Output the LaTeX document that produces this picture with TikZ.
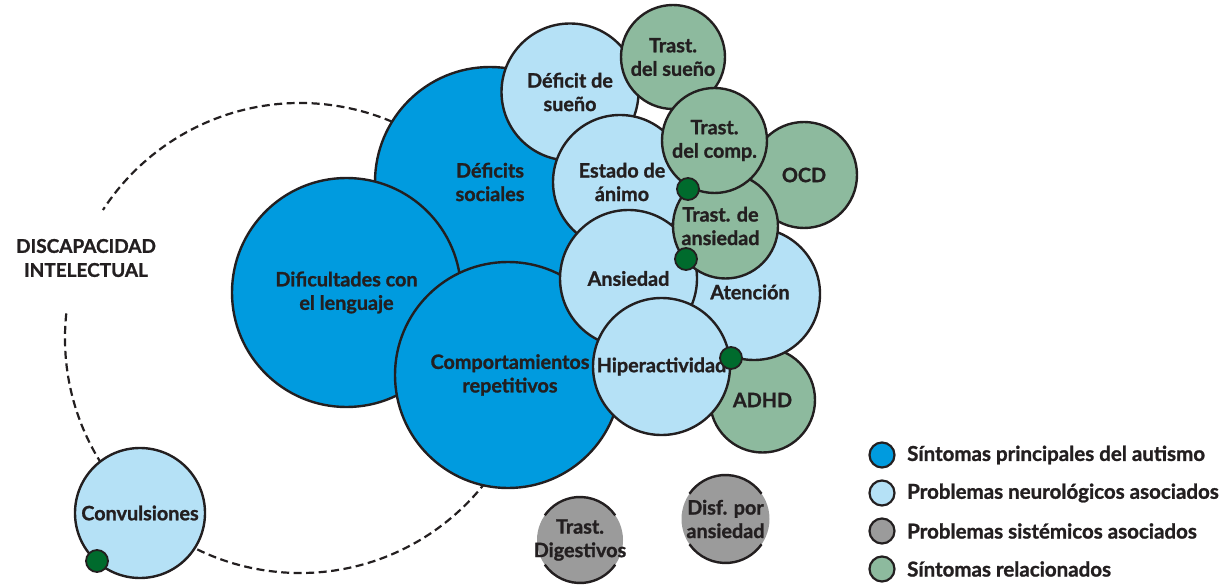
\documentclass[tikz,border=0pt]{standalone}
\usepackage{fontspec}
\setmainfont{Lato}[BoldFeatures={FakeBold=1.2}]
\definecolor{ink}{HTML}{231F20}
\definecolor{coreblue}{HTML}{009BDF}
\definecolor{lightblue}{HTML}{B5E1F6}
\definecolor{sysgrey}{HTML}{9B9B9B}
\definecolor{relgreen}{HTML}{8DBA9E}
\definecolor{dotgreen}{HTML}{006B2D}
\begin{document}
\begin{tikzpicture}[x=1pt,y=-1pt,
  bub/.style={circle, draw=ink, line width=2.4pt, inner sep=0pt},
  core/.style={bub, fill=coreblue},
  neuro/.style={bub, fill=lightblue},
  rel/.style={bub, fill=relgreen},
  sysc/.style={circle, fill=sysgrey, inner sep=0pt},
  rim/.style={draw=ink, line width=2.4pt},
  lbl/.style={align=center, text=ink, inner sep=0pt, font=\bfseries\fontsize{19.8}{23.5}\selectfont},
  jn/.style={circle, fill=dotgreen, draw=ink, line width=1.8pt, minimum size=22pt, inner sep=0pt},
  key/.style={circle, draw=ink, line width=2.2pt, minimum size=25pt, inner sep=0pt},
  keytxt/.style={anchor=west, text=ink, inner sep=0pt, font=\bfseries\fontsize{20.5}{22}\selectfont},
  ring/.style={draw=ink, line width=2.2pt, dash pattern=on 8pt off 4.5pt}
]
\useasboundingbox (0,0) rectangle (1223,585);

% dashed ring for intellectual disability
\coordinate (ringc) at (300,338);
\draw[ring] ([shift={(174:235pt)}]ringc) arc[start angle=174, end angle=507, radius=235pt];
\node[lbl, font=\bfseries\fontsize{19}{24}\selectfont] (di) at (86,258) {DISCAPACIDAD\\INTELECTUAL};

% core symptoms
\node[core, minimum size=230pt] (soc) at (490,182) {};
\node[core, minimum size=229pt] (leng) at (346.5,292.5) {};
\node[core, minimum size=226pt] (rep) at (508,375) {};

% neurological / related
\node[neuro, minimum size=137pt] (dsue) at (570,92) {};
\node[rel, minimum size=104pt] (tsue) at (673,57) {};
\node[neuro, minimum size=134pt] (animo) at (620,182) {};
\node[rel, minimum size=106pt] (ocd) at (804,175) {};
\node[rel, minimum size=105pt] (adhd) at (762.5,400) {};
\node[neuro, minimum size=132pt] (aten) at (754,294) {};
\node[neuro, minimum size=137pt] (ans) at (628.5,278.5) {};
\node[rel, minimum size=105pt] (tans) at (725.5,226) {};
\node[rel, minimum size=105pt] (tcomp) at (714.5,140.5) {};
\node[neuro, minimum size=137pt] (hip) at (661.5,366.5) {};
\node[neuro, minimum size=130pt] (conv) at (140,513) {};

% systemic
\node[sysc, minimum size=86pt] (dig) at (580,540) {};
\draw[rim] ([shift={(35:43pt)}]dig.center) arc[start angle=35, end angle=145, radius=43pt];
\draw[rim] ([shift={(215:43pt)}]dig.center) arc[start angle=215, end angle=325, radius=43pt];
\node[sysc, minimum size=88pt] (disf) at (725.5,519) {};
\draw[rim] ([shift={(35:44pt)}]disf.center) arc[start angle=35, end angle=145, radius=44pt];
\draw[rim] ([shift={(215:44pt)}]disf.center) arc[start angle=215, end angle=325, radius=44pt];

% labels
\node[lbl] at (soc.center) {Déficits\\sociales};
\node[lbl] at (leng.center) {Dificultades con\\el lenguaje};
\node[lbl] at ([xshift=2pt]rep.center) {Comportamientos\\repetitivos};
\node[lbl] at (dsue.center) {Déficit de\\sueño};
\node[lbl] at (tsue.center) {Trast.\\del sueño};
\node[lbl] at ([xshift=2pt]animo.center) {Estado de\\ánimo};
\node[lbl] at (ocd.center) {OCD};
\node[lbl] at (adhd.center) {ADHD};
\node[lbl] at ([xshift=-4pt,yshift=2pt]aten.center) {Atención};
\node[lbl] at (ans.center) {Ansiedad};
\node[lbl] at ([xshift=-5pt]tans.center) {Trast. de\\ansiedad};
\node[lbl] at (tcomp.center) {Trast.\\del comp.};
\node[lbl] at (hip.center) {Hiperactividad};
\node[lbl] at (conv.center) {Convulsiones};
\node[lbl] at (dig.center) {Trast.\\Digestivos};
\node[lbl] at (disf.center) {Disf. por\\ansiedad};

% junction dots
\node[jn] (j1) at (688,189) {};
\node[jn] (j2) at (686,259) {};
\node[jn] (j3) at (731,358) {};
\node[jn] (j4) at (97,561) {};

% legend
\node[key, fill=coreblue] (k1) at (882,455) {};
\node[key, fill=lightblue] (k2) at (882,493) {};
\node[key, fill=sysgrey] (k3) at (882,531) {};
\node[key, fill=relgreen] (k4) at (882,569) {};
\node[keytxt] (t1) at (907,455) {Síntomas principales del autismo};
\node[keytxt] (t2) at (907,493) {Problemas neurológicos asociados};
\node[keytxt] (t3) at (907,531) {Problemas sistémicos asociados};
\node[keytxt] (t4) at (907,569) {Síntomas relacionados};
\end{tikzpicture}
\end{document}
